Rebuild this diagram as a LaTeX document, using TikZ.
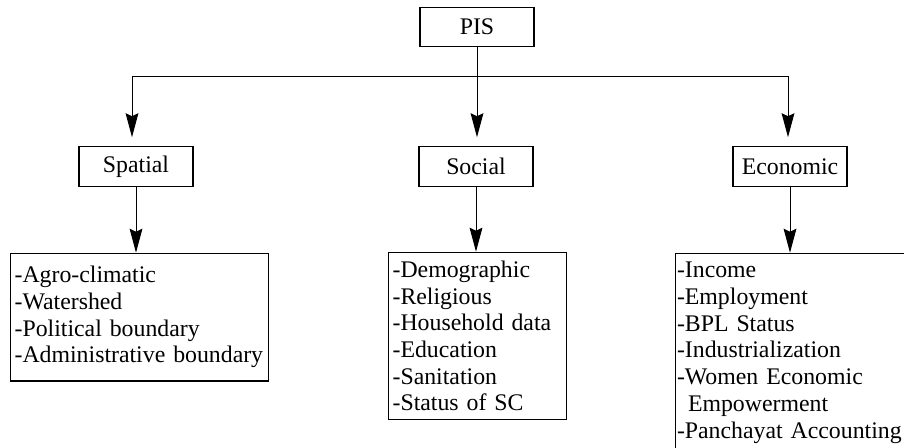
\documentclass[tikz,border=0pt]{standalone}
\usepackage{fontspec}
\setmainfont{Liberation Serif}
\usetikzlibrary{positioning,arrows.meta}
\tikzset{
  >={Stealth[length=12pt,width=6.4pt,inset=1.5pt]},
  headbox/.style={draw,line width=0.6pt,minimum width=57pt,minimum height=19.7pt,inner sep=0pt},
  listbox/.style={draw,line width=0.6pt,align=left,anchor=north west,inner xsep=2pt},
}

\begin{document}
\begin{tikzpicture}[x=0.5pt,y=-0.5pt,font=\fontsize{11.9}{13.35}\selectfont,line width=0.5pt]
  \path[use as bounding box] (0,0) rectangle (904,447);
  \clip (0,0) rectangle (904,447);

  % top level and the three groups
  \node[headbox] (pis)      at (477,27)    {PIS};
  \node[headbox] (spatial)  at (136,166.5) {Spatial};
  \node[headbox] (social)   at (476,166.5) {Social};
  \node[headbox] (economic) at (790,166.5) {Economic};

  % lists under each group
  \node[listbox,text width=125pt,inner ysep=6.5pt] (spatiallist) at (10,252.7)
    {-Agro-climatic\\-Watershed\\-Political boundary\\-Administrative boundary};
  \node[listbox,text width=85pt,inner ysep=4.3pt] (sociallist) at (388,251.7)
    {-Demographic\\-Religious\\-Household data\\-Education\\-Sanitation\\-Status of SC};
  \node[listbox,text width=120pt,inner xsep=0.7pt,inner ysep=4.5pt] (economiclist) at (675,252.7)
    {-Income\\-Employment\\-BPL Status\\-Industrialization\\-Women Economic\\\hspace*{5.5pt}Empowerment\\-Panchayat Accounting};

  % branching
  \coordinate (jl) at (132,76);
  \coordinate (jr) at (788,76);
  \draw (pis) -- (pis |- jl);
  \draw (jl) -- (jr);
  \draw[->,shorten >=4.5pt] (jl) -- (jl |- spatial.north);
  \draw[->,shorten >=4.5pt] (pis |- jl) -- (pis |- social.north);
  \draw[->,shorten >=4.5pt] (jr) -- (jr |- economic.north);

  \draw[->] (spatial.south) -- (spatial.south |- spatiallist.north);
  \draw[->] (social.south) -- (social.south |- sociallist.north);
  \draw[->] (economic.south) -- (economic.south |- economiclist.north);
\end{tikzpicture}
\end{document}
